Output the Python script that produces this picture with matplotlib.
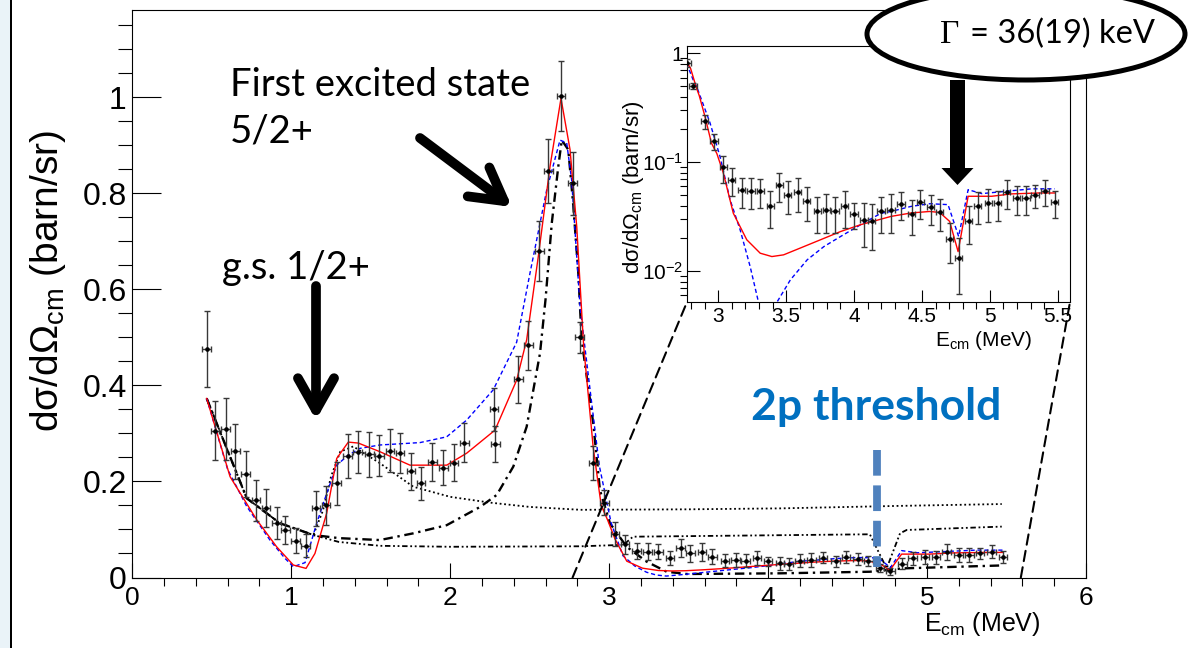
import numpy as np
import matplotlib
matplotlib.use("Agg")
import matplotlib.pyplot as plt
from matplotlib.patches import Ellipse, Rectangle, FancyArrow, FancyArrowPatch, ConnectionPatch
from matplotlib.transforms import Affine2D
from matplotlib.ticker import FixedLocator, MultipleLocator, NullFormatter

# measured cross section, E_cm (MeV), d sigma / d Omega (barn/sr)
E_DATA = [0.468, 0.520, 0.588, 0.648, 0.713, 0.778, 0.841, 0.908, 0.963, 1.028,
          1.091, 1.156, 1.219, 1.286, 1.355, 1.418, 1.491, 1.554, 1.621, 1.684,
          1.753, 1.816, 1.887, 1.957, 2.024, 2.089, 2.276, 2.284, 2.428, 2.491,
          2.561, 2.617, 2.697, 2.770, 2.815, 2.900, 2.970, 3.037, 3.099, 3.173,
          3.242, 3.309, 3.383, 3.450, 3.511, 3.585, 3.650, 3.729, 3.796, 3.859,
          3.930, 4.000, 4.074, 4.130, 4.198, 4.272, 4.346, 4.425, 4.489, 4.563,
          4.630, 4.704, 4.770, 4.844, 4.909, 4.988, 5.057, 5.124, 5.198, 5.267,
          5.333, 5.407, 5.477]
SIG_DATA = [0.476, 0.306, 0.309, 0.263, 0.216, 0.161, 0.145, 0.113, 0.099, 0.077,
            0.066, 0.144, 0.150, 0.196, 0.253, 0.262, 0.257, 0.254, 0.264, 0.259,
            0.221, 0.196, 0.241, 0.229, 0.239, 0.281, 0.350, 0.278, 0.413, 0.484,
            0.680, 0.847, 1.002, 0.821, 0.500, 0.239, 0.156, 0.090, 0.069, 0.0552,
            0.054, 0.054, 0.040, 0.0614, 0.0503, 0.053, 0.0437, 0.0353, 0.0366, 0.0353,
            0.040, 0.0334, 0.0296, 0.0286, 0.0353, 0.0366, 0.0414, 0.0334, 0.0428, 0.0385,
            0.0346, 0.0198, 0.0132, 0.0286, 0.040, 0.0423, 0.042, 0.0533, 0.047, 0.047,
            0.0503, 0.054, 0.0428]
ERR_DATA = [0.080, 0.062, 0.065, 0.057, 0.048, 0.043, 0.040, 0.033, 0.030, 0.027,
            0.024, 0.037, 0.040, 0.045, 0.046, 0.044, 0.047, 0.043, 0.045, 0.041,
            0.038, 0.035, 0.040, 0.037, 0.039, 0.040, 0.045, 0.038, 0.049, 0.051,
            0.062, 0.067, 0.073, 0.065, 0.033, 0.035, 0.026, 0.025, 0.020, 0.017,
            0.017, 0.016, 0.015, 0.018, 0.017, 0.018, 0.015, 0.013, 0.014, 0.013,
            0.015, 0.009, 0.013, 0.013, 0.013, 0.014, 0.012, 0.012, 0.013, 0.012,
            0.011, 0.008, 0.007, 0.011, 0.013, 0.014, 0.013, 0.016, 0.014, 0.014,
            0.012, 0.014, 0.012]
BIN_HALF = 0.027

# fit 1 (red, solid)
RED_E = [0.468, 0.615, 0.783, 0.908, 1.013, 1.093, 1.149, 1.223, 1.286, 1.359,
         1.422, 1.558, 1.747, 1.978, 2.104, 2.282, 2.418, 2.481, 2.554, 2.628,
         2.697, 2.754, 2.796, 2.840, 2.860, 2.900, 2.950, 2.990, 3.037, 3.111,
         3.210, 3.309, 3.395, 3.481, 3.605, 3.753, 3.901, 4.049, 4.198, 4.272,
         4.420, 4.556, 4.630, 4.704, 4.766, 4.840, 5.013, 5.160, 5.358, 5.477]
RED_S = [0.373, 0.210, 0.120, 0.064, 0.026, 0.019, 0.050, 0.134, 0.248, 0.282,
         0.280, 0.262, 0.234, 0.234, 0.259, 0.307, 0.411, 0.495, 0.668, 0.856,
         0.998, 0.891, 0.731, 0.480, 0.410, 0.270, 0.150, 0.120, 0.080, 0.034,
         0.0194, 0.0146, 0.0136, 0.0141, 0.0163, 0.0194, 0.0231, 0.0267, 0.0300, 0.0318,
         0.0342, 0.0353, 0.0346, 0.0286, 0.0151, 0.0487, 0.0487, 0.0512, 0.0522, 0.0522]
# fit 2 (blue, dashed)
BLUE_E = [0.468, 0.600, 0.720, 0.866, 0.960, 1.013, 1.087, 1.160, 1.223, 1.286,
          1.359, 1.433, 1.558, 1.810, 1.978, 2.104, 2.271, 2.418, 2.502, 2.607,
          2.691, 2.733, 2.764, 2.817, 2.840, 2.938, 3.013, 3.087, 3.161, 3.235,
          3.296, 3.360, 3.433, 3.531, 3.655, 3.778, 3.901, 4.049, 4.198, 4.272,
          4.420, 4.556, 4.692, 4.770, 4.840, 4.940, 5.111, 5.309, 5.477]
BLUE_S = [0.373, 0.225, 0.148, 0.078, 0.040, 0.0225, 0.031, 0.113, 0.175, 0.234,
          0.255, 0.269, 0.276, 0.281, 0.293, 0.328, 0.391, 0.490, 0.634, 0.807,
          0.911, 0.905, 0.828, 0.564, 0.500, 0.233, 0.113, 0.0453, 0.024, 0.011,
          0.0052, 0.003, 0.0052, 0.0083, 0.0127, 0.0168, 0.0208, 0.0267, 0.0340, 0.0353,
          0.0393, 0.0416, 0.0408, 0.0208, 0.056, 0.0515, 0.054, 0.057, 0.057]
# 5/2+ component (black dash-dot)
C52_E = [0.468, 0.720, 0.929, 1.139, 1.300, 1.558, 1.768, 1.978, 2.188, 2.293,
         2.397, 2.481, 2.565, 2.600, 2.639, 2.680, 2.702, 2.743, 2.775, 2.806,
         2.827, 2.900, 2.942, 3.005, 3.110, 3.236, 3.362, 3.488, 4.075, 4.640,
         4.850, 5.460]
C52_S = [0.373, 0.165, 0.113, 0.0885, 0.082, 0.078, 0.092, 0.109, 0.147, 0.172,
         0.231, 0.314, 0.467, 0.580, 0.738, 0.856, 0.911, 0.891, 0.772, 0.634,
         0.495, 0.321, 0.182, 0.113, 0.064, 0.033, 0.012, 0.0073, 0.0087, 0.012,
         0.019, 0.025]
# 1/2+ component (black dotted)
C12_E = [0.468, 0.720, 0.929, 1.139, 1.200, 1.250, 1.308, 1.390, 1.558, 1.768,
         2.000, 2.250, 2.500, 2.820, 3.500, 4.080, 4.800, 5.470]
C12_S = [0.373, 0.165, 0.113, 0.0885, 0.140, 0.210, 0.262, 0.273, 0.238, 0.189,
         0.168, 0.156, 0.147, 0.141, 0.142, 0.144, 0.149, 0.153]
# background component (black dash-dot-dot)
BG_E = [0.468, 0.720, 0.929, 1.139, 1.300, 1.560, 2.000, 2.820, 3.000, 3.090,
        3.150, 4.640, 4.746, 4.830, 4.872, 5.470]
BG_S = [0.373, 0.165, 0.113, 0.0885, 0.074, 0.066, 0.064, 0.065, 0.067, 0.068,
        0.085, 0.090, 0.019, 0.092, 0.099, 0.106]

E_2P = 4.683
E_ZOOM = (2.77, 5.59)

W, H = 1203, 648
plt.rcParams["font.family"] = "Liberation Sans"
plt.rcParams["mathtext.fontset"] = "custom"
plt.rcParams["mathtext.rm"] = "Liberation Sans"
plt.rcParams["mathtext.it"] = "Liberation Sans:italic"
plt.rcParams["mathtext.bf"] = "Liberation Sans:bold"

fig = plt.figure(figsize=(W / 100, H / 100), dpi=100)
# image-pixel coordinates (origin top-left)
px = Affine2D().scale(1 / W, -1 / H).translate(0, 1) + fig.transFigure

YLAB = "d\u03c3/d\u03a9$_{\\rm cm}$ (barn/sr)"
XLAB = "E$_{\\rm cm}$ (MeV)"


def draw_curves(a, full=True):
    if full:
        a.plot(C12_E, C12_S, color="black", lw=1.3, ls=(0, (1, 1.5)), zorder=2)
        a.plot(BG_E, BG_S, color="black", lw=1.3, ls=(0, (3, 1.5, 1, 1.5, 1, 1.5)), zorder=2)
        a.plot(C52_E, C52_S, color="black", lw=1.7, ls=(0, (4, 2, 1, 2)), zorder=2)
    a.plot(BLUE_E, BLUE_S, color="blue", lw=1.0, ls=(0, (3, 2)), zorder=3)
    a.plot(RED_E, RED_S, color="red", lw=1.0, zorder=3)
    a.errorbar(E_DATA, SIG_DATA, yerr=ERR_DATA, xerr=BIN_HALF, fmt="o", ms=2.3,
               color="black", ecolor="#383838", elinewidth=1.0, capsize=2.2,
               capthick=1.0, zorder=4)


# main pad
ax = fig.add_axes([132.3 / W, (H - 577.5) / H, (1086 - 132.3) / W, (577.5 - 10) / H])
draw_curves(ax)
ax.plot([E_2P, E_2P], [0.266, 0.022], color="#4F81BD", lw=5.6,
        ls=(0, (3.3, 1.25)), zorder=6)
ax.set_xlim(0, 6)
ax.set_ylim(0, 1.182)
ax.set_xticks(range(7))
ax.set_xticklabels([str(i) for i in range(7)])
ax.xaxis.set_minor_locator(MultipleLocator(0.2))
ax.set_yticks([0, 0.2, 0.4, 0.6, 0.8, 1.0])
ax.set_yticklabels(["0", "0.2", "0.4", "0.6", "0.8", "1"])
ax.yaxis.set_minor_locator(MultipleLocator(0.05))
ax.tick_params(direction="in", top=False, right=False, width=0.8)
ax.tick_params(axis="x", which="major", length=10.8, pad=6, labelsize=19)
ax.tick_params(axis="x", which="minor", length=5.5, width=0.8)
ax.tick_params(axis="y", which="major", length=20.6, pad=4, labelsize=23)
ax.tick_params(axis="y", which="minor", length=10.3, width=0.8)
for s in ax.spines.values():
    s.set_linewidth(0.8)

# inset pad (log scale)
axin = fig.add_axes([687 / W, (H - 302) / H, (1070 - 687) / W, (302 - 46) / H])
draw_curves(axin, full=False)
axin.set_yscale("log")
axin.set_xlim(*E_ZOOM)
axin.set_ylim(0.0052, 1.17)
axin.set_xticks([3, 3.5, 4, 4.5, 5, 5.5])
axin.set_xticklabels(["3", "3.5", "4", "4.5", "5", "5.5"])
axin.xaxis.set_minor_locator(MultipleLocator(0.1))
axin.yaxis.set_major_locator(FixedLocator([0.01, 0.1, 1.0]))
axin.set_yticklabels(["$10^{-2}$", "$10^{-1}$", "1"])
axin.yaxis.set_minor_locator(FixedLocator(
    [m * 10.0 ** d for d in (-3, -2, -1) for m in range(2, 10)]))
axin.yaxis.set_minor_formatter(NullFormatter())
axin.tick_params(direction="in", top=False, right=False, labelsize=15, width=0.8)
axin.tick_params(which="major", length=9)
axin.tick_params(which="minor", length=5, width=0.8)
axin.tick_params(axis="y", pad=3)
for s in axin.spines.values():
    s.set_linewidth(0.8)

# zoom guide lines
for xa, xb in ((E_ZOOM[0], 0), (E_ZOOM[1], 1)):
    fig.add_artist(ConnectionPatch(xyA=(xa, 0), coordsA=ax.transData,
                                   xyB=(xb, 0), coordsB=axin.transAxes,
                                   color="black", lw=1.5, ls=(0, (5, 3)), zorder=1))

# axis titles
fig.text(48, 281, YLAB, transform=px, rotation=90, ha="center", va="center", fontsize=28)
fig.text(1040, 624, XLAB, transform=px, ha="right", va="center", fontsize=18)
fig.text(633, 187, YLAB, transform=px, rotation=90, ha="center", va="center", fontsize=16)
fig.text(1032, 340, XLAB, transform=px, ha="right", va="center", fontsize=15)

# left slide border
fig.add_artist(Rectangle((0, 0), 10, H, transform=px, color="#EAF3F8", lw=0, zorder=0))
fig.add_artist(Rectangle((10, 0), 2, H, transform=px, color="black", lw=0, zorder=0))

# annotations
note = dict(transform=px, family="Lato", fontsize=27.5, va="baseline", ha="left", zorder=8)
fig.text(230, 96, "First excited state", **note)
fig.text(230, 143, "5/2+", **note)
fig.text(222, 279, "g.s. 1/2+", **note)
fig.text(751, 420, "2p threshold", transform=px, family="Lato", fontweight="bold",
         fontsize=32, color="#0070C0", va="baseline", ha="left", zorder=8)

for tail, tip in (((316, 286), (316, 420)), ((420, 138), (512, 207))):
    fig.add_artist(FancyArrowPatch(tail, tip, transform=px,
                                   arrowstyle="->,head_length=1.15,head_width=0.65",
                                   mutation_scale=20, lw=7, color="black",
                                   shrinkA=0, shrinkB=0, zorder=8))

fig.add_artist(Ellipse((1026, 34), 318, 92, transform=px, facecolor="white",
                       edgecolor="black", lw=3.6, zorder=7))
fig.add_artist(FancyArrow(957.5, 80, 0, 105, width=15, head_width=32, head_length=17,
                          length_includes_head=True, transform=px, color="black",
                          lw=0, zorder=8))
fig.text(940, 43, "\u0393", transform=px, family="Liberation Serif", fontsize=24,
         va="baseline", ha="left", zorder=9)
fig.text(970, 43, "= 36(19) keV", transform=px, family="Lato", fontsize=23.5,
         va="baseline", ha="left", zorder=9)

fig.savefig("out.png", dpi=100)
